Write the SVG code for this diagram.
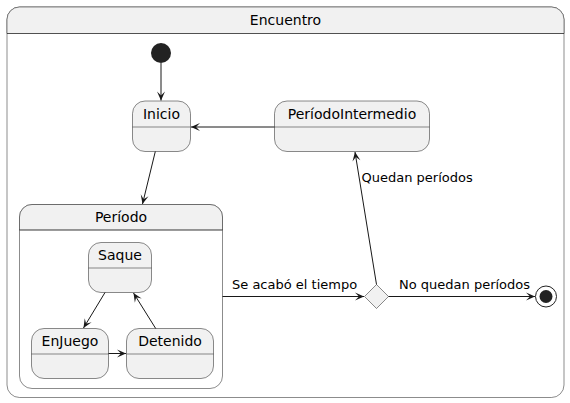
<svg xmlns="http://www.w3.org/2000/svg" width="570" height="403" viewBox="0 0 570 403">
<defs>
<style>
.box{fill:#F1F1F1;stroke:#181818;stroke-width:0.5}
.sep{stroke:#181818;stroke-width:0.5}
.t{font-family:"DejaVu Sans",sans-serif;font-size:14px;fill:#000;text-anchor:middle}
.l{font-family:"DejaVu Sans",sans-serif;font-size:13px;fill:#000}
.c{stroke:#181818;stroke-width:1;fill:none;marker-end:url(#ah)}
</style>
<marker id="ah" viewBox="-10 -5 11 10" refX="0" refY="0" markerWidth="11" markerHeight="10" orient="auto" markerUnits="userSpaceOnUse">
<path d="M0,0 L-9,-4 L-5,0 L-9,4 Z" fill="#181818"/>
</marker>
</defs>
<rect width="570" height="403" fill="#FFFFFF"/>
<g id="Encuentro">
<rect class="box" x="7" y="7" width="557" height="390.5" rx="12.5" fill="#FFFFFF" style="fill:#FFFFFF"/>
<path class="box" d="M7,33.5 V19.5 A12.5,12.5 0 0 1 19.5,7 H551.5 A12.5,12.5 0 0 1 564,19.5 V33.5 Z"/>
<line class="sep" x1="7" y1="33.5" x2="564" y2="33.5"/>
<text class="t" x="285.5" y="25">Encuentro</text>
</g>
<g id="start">
<circle cx="161" cy="53" r="10" fill="#222222"/>
</g>
<g id="Inicio">
<rect class="box" x="132.5" y="101" width="58" height="50.5" rx="12.5"/>
<line class="sep" x1="132.5" y1="127" x2="190.5" y2="127"/>
<text class="t" x="161.5" y="119">Inicio</text>
</g>
<g id="PeriodoIntermedio">
<rect class="box" x="274.5" y="101" width="155" height="50.5" rx="12.5"/>
<line class="sep" x1="274.5" y1="127" x2="429.5" y2="127"/>
<text class="t" x="352" y="119">PeríodoIntermedio</text>
</g>
<g id="Periodo">
<rect class="box" x="19.5" y="204.5" width="203" height="184" rx="12.5" style="fill:#FFFFFF"/>
<path class="box" d="M19.5,230 V217 A12.5,12.5 0 0 1 32,204.5 H210 A12.5,12.5 0 0 1 222.5,217 V230 Z"/>
<line class="sep" x1="19.5" y1="230" x2="222.5" y2="230"/>
<text class="t" x="121" y="222">Período</text>
</g>
<g id="Saque">
<rect class="box" x="88.5" y="242.5" width="63" height="50" rx="12.5"/>
<line class="sep" x1="88.5" y1="268" x2="151.5" y2="268"/>
<text class="t" x="120" y="260">Saque</text>
</g>
<g id="EnJuego">
<rect class="box" x="31.5" y="328.5" width="77" height="50" rx="12.5"/>
<line class="sep" x1="31.5" y1="354" x2="108.5" y2="354"/>
<text class="t" x="70" y="346">EnJuego</text>
</g>
<g id="Detenido">
<rect class="box" x="126.5" y="328.5" width="87" height="50" rx="12.5"/>
<line class="sep" x1="126.5" y1="354" x2="213.5" y2="354"/>
<text class="t" x="170" y="346">Detenido</text>
</g>
<g id="choice">
<polygon points="376.5,284.5 388.5,296.5 376.5,308.5 364.5,296.5" fill="#F1F1F1" stroke="#181818" stroke-width="0.5"/>
</g>
<g id="end">
<circle cx="546" cy="296.5" r="10.5" fill="none" stroke="#222222" stroke-width="1"/>
<circle cx="546" cy="296.5" r="6.5" fill="#222222"/>
</g>
<g id="connectors">
<line class="c" x1="161" y1="63" x2="161" y2="100.5"/>
<line class="c" x1="274.5" y1="127" x2="191" y2="127"/>
<line class="c" x1="155.3" y1="151.5" x2="142.5" y2="204"/>
<line class="c" x1="105" y1="292.5" x2="83.5" y2="328"/>
<line class="c" x1="155.7" y1="328.5" x2="133.5" y2="293"/>
<line class="c" x1="108.5" y1="353.5" x2="126" y2="353.5"/>
<line class="c" x1="222.5" y1="296.5" x2="364" y2="296.5"/>
<line class="c" x1="388.5" y1="296.5" x2="535" y2="296.5"/>
<line class="c" x1="376.5" y1="284.5" x2="355" y2="152"/>
<text class="l" x="232" y="289">Se acabó el tiempo</text>
<text class="l" x="399" y="289">No quedan períodos</text>
<text class="l" x="361.5" y="182">Quedan períodos</text>
</g>
</svg>
